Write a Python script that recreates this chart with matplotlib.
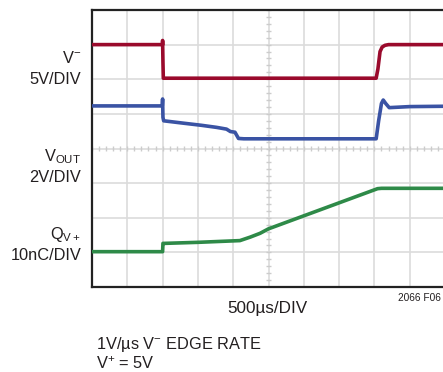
import numpy as np
import matplotlib
matplotlib.use('Agg')
from matplotlib import pyplot as plt

# scope trace in divisions (x: 0..10, y: 0..8 from bottom)
red_x = [0, 2.0, 2.0, 2.01, 2.02, 8.05, 8.1, 8.16, 8.22, 8.3, 8.4, 10]
red_y = [7.0, 7.0, 7.12, 6.5, 6.03, 6.03, 6.3, 6.8, 6.93, 6.98, 7.0, 7.0]

blue_x = [0, 1.99, 2.0, 2.01, 2.03, 2.6, 3.1, 3.53, 3.81, 3.92, 4.05, 4.1, 4.15, 4.3, 8.05, 8.12, 8.2, 8.25, 8.32, 8.42, 9.0, 10]
blue_y = [5.23, 5.23, 5.43, 4.9, 4.8, 4.73, 4.67, 4.61, 4.56, 4.49, 4.47, 4.38, 4.29, 4.28, 4.28, 4.8, 5.3, 5.4, 5.3, 5.18, 5.21, 5.22]

green_x = [0, 2.0, 2.01, 2.05, 3.0, 4.19, 4.48, 4.76, 5.0, 8.09, 8.2, 10]
green_y = [1.02, 1.02, 1.26, 1.26, 1.29, 1.34, 1.44, 1.55, 1.68, 2.84, 2.85, 2.85]

red = '#9a0a2c'
blue = '#3a53a4'
green = '#2e8a48'

plt.rcParams['font.family'] = ['Liberation Sans Narrow', 'Liberation Sans', 'DejaVu Sans']
plt.rcParams['mathtext.default'] = 'regular'

W, H = 443, 372
fig = plt.figure(figsize=(W / 100, H / 100), dpi=100)
ax = fig.add_axes([92 / W, (H - 287) / H, (445 - 92) / W, (287 - 10) / H])
ax.set_xlim(0, 10)
ax.set_ylim(0, 8)

for v in range(1, 10):
    ax.axvline(v, color='#dcdcdc', lw=1.2, zorder=1)
for h in range(1, 8):
    ax.axhline(h, color='#dcdcdc', lw=1.2, zorder=1)
# minor ticks on centre lines
mx = np.arange(0, 10.01, 0.2)
ax.vlines(mx, 3.93, 4.07, color='#cccccc', lw=1, zorder=1)
my = np.arange(0, 8.01, 0.2)
ax.hlines(my, 4.93, 5.07, color='#cccccc', lw=1, zorder=1)

ax.plot(red_x, red_y, color=red, lw=2.6, zorder=3, solid_joinstyle='round')
ax.plot(blue_x, blue_y, color=blue, lw=2.6, zorder=3, solid_joinstyle='round')
ax.plot(green_x, green_y, color=green, lw=2.6, zorder=3, solid_joinstyle='round')

ax.set_xticks([])
ax.set_yticks([])
for s in ['top', 'left', 'bottom']:
    ax.spines[s].set_linewidth(1.6)
    ax.spines[s].set_color('#222222')
ax.spines['right'].set_visible(False)

fs = 11.8
tc = '#231f20'
def lab(x, y, s, ha='right', size=fs):
    fig.text(x / W, 1 - y / H, s, ha=ha, va='center', fontsize=size, color=tc)

lab(81, 58, r'V$^{-}$')
lab(81, 79.5, '5V/DIV')
lab(81, 157, r'V$_{OUT}$')
lab(81, 178, '2V/DIV')
lab(81, 235, r'Q$_{V+}$')
lab(81, 256, '10nC/DIV')
lab(267, 308.5, '500µs/DIV', ha='center', size=12.3)
lab(441, 298, '2066 F06', ha='right', size=7.3)
lab(96, 344.5, r'1V/µs V$^{-}$ EDGE RATE', ha='left')
lab(96, 364, r'V$^{+}$ = 5V', ha='left')

fig.savefig('out.png', dpi=100)
